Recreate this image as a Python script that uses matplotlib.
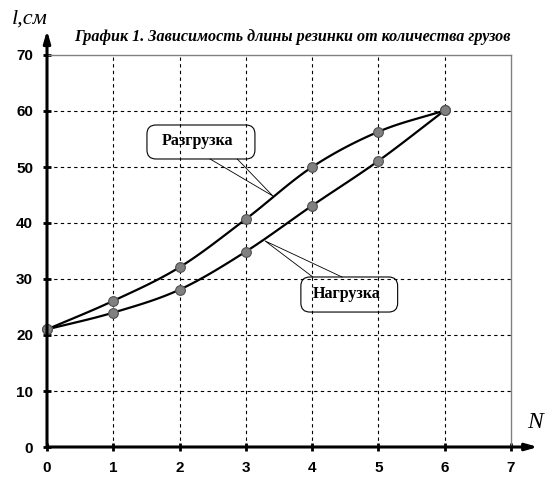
import numpy as np
import matplotlib
matplotlib.use("Agg")
import matplotlib.pyplot as plt
from matplotlib.patches import FancyBboxPatch

# ---- data ----
N_values = [0, 1, 2, 3, 4, 5, 6]
unload_len = [21.0, 26.1, 32.1, 40.7, 50.0, 56.3, 60.1]   # Разгрузка
load_len = [21.0, 24.0, 28.1, 34.9, 43.1, 51.1, 60.1]     # Нагрузка
x_ticks = [0, 1, 2, 3, 4, 5, 6, 7]
y_ticks = [0, 10, 20, 30, 40, 50, 60, 70]
title = "График 1. Зависимость длины резинки от количества грузов"
label_unload = "Разгрузка"
label_load = "Нагрузка"


def smooth(x, y, n=20):
    """Catmull-Rom smoothing (like Excel's smoothed line) through the points."""
    x = np.asarray(x, float)
    y = np.asarray(y, float)
    P = np.column_stack([x, y])
    P = np.vstack([P[0] - (P[1] - P[0]), P, P[-1] + (P[-1] - P[-2])])
    out = []
    for i in range(1, len(P) - 2):
        p0, p1, p2, p3 = P[i - 1], P[i], P[i + 1], P[i + 2]
        t = np.linspace(0, 1, n, endpoint=(i == len(P) - 3))[:, None]
        pts = 0.5 * ((2 * p1) + (-p0 + p2) * t + (2 * p0 - 5 * p1 + 4 * p2 - p3) * t ** 2
                     + (-p0 + 3 * p1 - 3 * p2 + p3) * t ** 3)
        out.append(pts)
    out = np.vstack(out)
    return out[:, 0], out[:, 1]


fig = plt.figure(figsize=(5.59, 4.90), dpi=100)
ax = fig.add_axes([47 / 559, 43 / 490, 464 / 559, 392 / 490])
ax.set_xlim(0, 7)
ax.set_ylim(0, 70)

# grid
for xv in x_ticks[1:-1]:
    ax.axvline(xv, color="black", lw=0.8, ls=(0, (3, 3)), zorder=1)
for yv in y_ticks[1:-1]:
    ax.axhline(yv, color="black", lw=0.8, ls=(0, (3, 3)), zorder=1)

# spines
ax.spines["top"].set_color("#808080")
ax.spines["right"].set_color("#808080")
ax.spines["top"].set_linewidth(1.0)
ax.spines["right"].set_linewidth(1.0)
ax.spines["left"].set_visible(False)
ax.spines["bottom"].set_visible(False)

# axis arrows
ax.annotate("", xy=(0, 1.063), xytext=(0, 0), xycoords="axes fraction",
            arrowprops=dict(arrowstyle="-|>,head_length=0.7,head_width=0.2", lw=2.2,
                            color="black", shrinkA=0, shrinkB=0), annotation_clip=False, zorder=5)
ax.annotate("", xy=(1.058, 0), xytext=(0, 0), xycoords="axes fraction",
            arrowprops=dict(arrowstyle="-|>,head_length=0.7,head_width=0.2", lw=2.2,
                            color="black", shrinkA=0, shrinkB=0), annotation_clip=False, zorder=5)

ax.set_xticks(x_ticks)
ax.set_yticks(y_ticks)
ax.tick_params(direction="inout", length=6, width=2, color="black", pad=7,
               labelsize=11)
for lab in ax.get_xticklabels() + ax.get_yticklabels():
    lab.set_family("Liberation Sans")
    lab.set_fontweight("bold")

# curves
xs, ys = smooth(N_values, unload_len)
ax.plot(xs, ys, color="black", lw=1.6, zorder=3, clip_on=False)
xs, ys = smooth(N_values, load_len)
ax.plot(xs, ys, color="black", lw=1.6, zorder=3, clip_on=False)
ax.plot(N_values, unload_len, "o", ms=7, mfc="#808080", mec="#505050", mew=0.8, zorder=4, clip_on=False)
ax.plot(N_values, load_len, "o", ms=7, mfc="#808080", mec="#505050", mew=0.8, zorder=4, clip_on=False)

# callouts
serif = "Liberation Serif"


def callout(x0, y0, x1, y1, text, tx, ty, leader_x, leader_y):
    p0 = ax.transData.transform((x0, y0))
    p1 = ax.transData.transform((x1, y1))
    patch = FancyBboxPatch((p0[0], p0[1]), p1[0] - p0[0], p1[1] - p0[1],
                           boxstyle="round,pad=0,rounding_size=9", fc="none", ec="black",
                           lw=0.8, transform=None, zorder=6)
    fig.patches.append(patch)
    ax.text(tx, ty, text, ha="center", va="center", family=serif,
            fontweight="bold", fontsize=11.5, zorder=6)
    ax.plot(leader_x, leader_y, color="black", lw=0.6, zorder=6)


callout(1.508, 51.43, 3.137, 57.5, label_unload, 2.27, 54.6,
        [2.46, 3.41, 2.87], [51.43, 44.8, 51.43])
callout(3.83, 24.1, 5.29, 30.36, label_load, 4.52, 27.3,
        [4.01, 3.29, 4.45], [30.36, 36.8, 30.36])

# titles / axis names
fig.text(292 / 559, 1 - 37 / 490, title, ha="center", va="center", family=serif,
         style="italic", fontweight="bold", fontsize=11.6)
fig.text(12 / 559, 1 - 19 / 490, "l,см", ha="left", va="center", family=serif,
         style="italic", fontsize=16)
fig.text(535 / 559, 1 - 422 / 490, "N", ha="center", va="center", family=serif,
         style="italic", fontsize=17)

fig.savefig("out.png", dpi=100)
